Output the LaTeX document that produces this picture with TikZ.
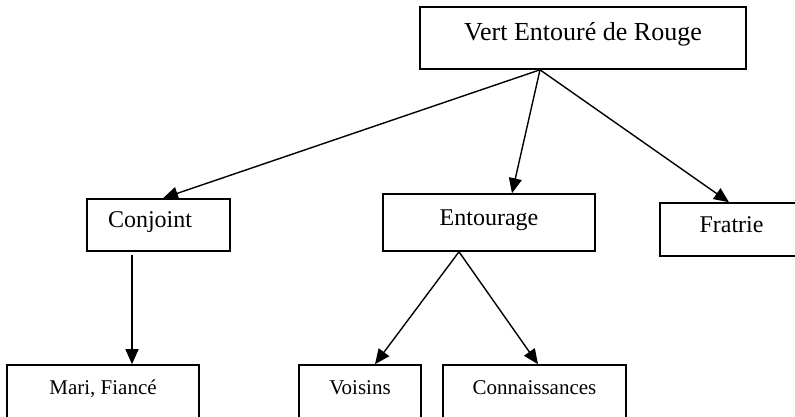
\documentclass[tikz,border=0pt]{standalone}
\usepackage{fontspec}
\setmainfont{Liberation Serif}
\usetikzlibrary{arrows.meta}

\begin{document}
\begin{tikzpicture} [x=1pt, y=-1pt,
 box/.style={draw, line width=1.6pt, inner sep=0, text height=0.56em, text depth=0pt},
 big/.style={font=\fontsize{26}{30}\selectfont},
 mid/.style={font=\fontsize{24}{28}\selectfont},
 small/.style={font=\fontsize{21}{25}\selectfont},
 >={Triangle[length=15pt, width=13pt]}]
\useasboundingbox (0,0) rectangle (795,416);
\clip (0,0) rectangle (795,416);
\node[box, big, minimum width=326, minimum height=62] (vert) at (583,38) {Vert Entouré de Rouge};
\node[box, mid, minimum width=143, minimum height=52, text width=101, align=left, inner xsep=21] (conj) at (158.5,225) {Conjoint};
\node[box, mid, minimum width=212, minimum height=57] (ent) at (489,222.5) {Entourage};
\node[box, mid, minimum width=143, minimum height=53] (frat) at (731.5,229.5) {Fratrie};
\node[box, small, minimum width=192, minimum height=53] (mari) at (103,391.5) {Mari, Fiancé};
\node[box, small, minimum width=122, minimum height=53] (vois) at (360,391.5) {Voisins};
\node[box, small, minimum width=183, minimum height=53] (conn) at (534.5,391.5) {Connaissances};
\draw[line width=1.4pt, ->] ([xshift=-43]vert.south)--([xshift=4.5]conj.north);
\draw[line width=1.4pt, ->] ([xshift=-43]vert.south)--([xshift=23]ent.north);
\draw[line width=1.4pt, ->] ([xshift=-43]vert.south)--([xshift=-2.5]frat.north);
\draw[line width=1.4pt, ->] ([xshift=-26.5, yshift=-3]conj.south)--([xshift=29]mari.north);
\draw[line width=1.4pt, ->] ([xshift=-30]ent.south)--([xshift=15]vois.north);
\draw[line width=1.4pt, ->] ([xshift=-30]ent.south)--([xshift=3.5]conn.north);
\end{tikzpicture}
\end{document}
